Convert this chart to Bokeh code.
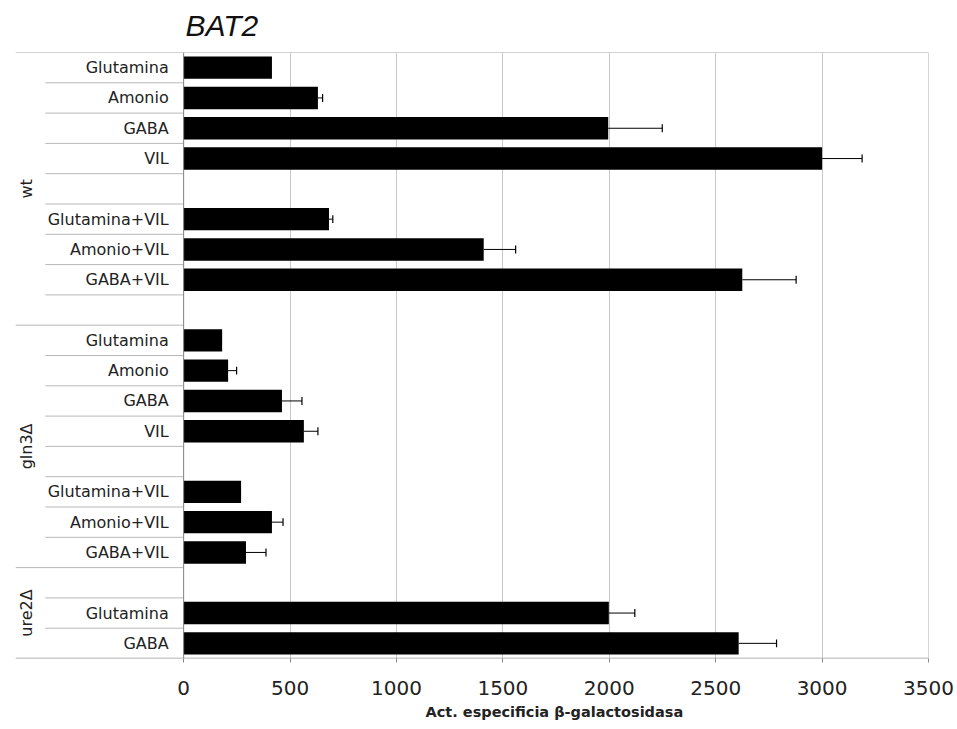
import numpy as np
from bokeh.plotting import figure
from bokeh.models import Range1d, FixedTicker, Span, Title, ColumnDataSource
from bokeh.core.properties import value
from bokeh.embed import file_html
from bokeh.resources import INLINE

# ---- data (rows from top to bottom; "" = empty spacer row) ----
labels = ["Glutamina", "Amonio", "GABA", "VIL", "",
          "Glutamina+VIL", "Amonio+VIL", "GABA+VIL", "",
          "Glutamina", "Amonio", "GABA", "VIL", "",
          "Glutamina+VIL", "Amonio+VIL", "GABA+VIL",
          "", "Glutamina", "GABA"]
values = [415, 631, 1995, 3000, np.nan,
          683, 1410, 2625, np.nan,
          181, 209, 462, 565, np.nan,
          270, 415, 293,
          np.nan, 1998, 2608]
errors = [0, 22, 254, 188, np.nan,
          18, 150, 253, np.nan,
          0, 40, 94, 66, np.nan,
          0, 52, 94,
          np.nan, 122, 178]
group_names = ["wt", "gln3\u0394", "ure2\u0394"]
group_start = [0, 9, 17]
group_end = [9, 17, 20]
x_ticks = [0, 500, 1000, 1500, 2000, 2500, 3000, 3500]
title_text = "BAT2"
x_label = "Act. especificia \u03b2-galactosidasa"

n = len(labels)
y = np.arange(n) + 0.5
vals = np.array(values, dtype=float)
errs = np.array(errors, dtype=float)

X0, X1 = -790, 3500
p = figure(width=957, height=729, output_backend="svg", toolbar_location=None,
           x_range=Range1d(X0, X1), y_range=Range1d(n, 0),
           y_axis_location=None, min_border_left=15, min_border_right=29,
           min_border_top=52, min_border_bottom=71)
p.outline_line_color = None
p.background_fill_color = "white"
p.border_fill_color = "white"

# grid
p.ygrid.visible = False
p.xgrid.ticker = FixedTicker(ticks=x_ticks[1:-1])
p.xgrid.grid_line_color = "#c8c8c8"
p.xgrid.grid_line_width = 1

# x axis
ax = p.xaxis[0]
ax.ticker = FixedTicker(ticks=x_ticks)
ax.axis_line_color = None
ax.major_tick_out = 4
ax.major_tick_in = 0
ax.major_tick_line_color = "#888888"
ax.minor_tick_line_color = None
ax.major_label_text_font = "DejaVu Sans"
ax.major_label_text_font_size = "20px"
ax.major_label_text_color = "#222222"
ax.major_label_standoff = 18

# frame lines
p.add_layout(Span(location=0, dimension="width", line_color="#aaaaaa", line_width=1))
p.add_layout(Span(location=n, dimension="width", line_color="#999999", line_width=1.5))
p.add_layout(Span(location=X1, dimension="height", line_color="#b0b0b0", line_width=1))

# separators in the label column
for b in range(1, n):
    x_start = X0 if b in group_start else -650
    p.segment(x0=[x_start], y0=[b], x1=[0], y1=[b], line_color="#b8b8b8", line_width=1)

# bars
mask = ~np.isnan(vals)
src = ColumnDataSource(dict(y=y[mask], v=vals[mask]))
p.hbar(y="y", left=0, right="v", height=0.74, source=src,
       fill_color="black", line_color=None)

# error bars (upper only)
emask = mask & (np.nan_to_num(errs) > 0)
esrc = ColumnDataSource(dict(y=y[emask], v=vals[emask], u=vals[emask] + errs[emask],
                             yl=y[emask] - 0.13, yh=y[emask] + 0.13))
p.segment(x0="v", y0="y", x1="u", y1="y", source=esrc, line_color="black", line_width=1)
p.segment(x0="u", y0="yl", x1="u", y1="yh", source=esrc, line_color="black", line_width=1.2)

# vertical axis line
p.segment(x0=[0], y0=[0], x1=[0], y1=[n], line_color="#808080", line_width=1)

# category labels
lab_mask = np.array([l != "" for l in labels])
p.text(x=[-70] * int(lab_mask.sum()), y=y[lab_mask], text=[l for l in labels if l != ""],
       text_font=value("DejaVu Sans"), text_font_size=value("16px"),
       text_align="right", text_baseline="middle", text_color="#222222")

# group labels
gy = [(s + e) / 2 for s, e in zip(group_start, group_end)]
p.text(x=[-738] * len(group_names), y=gy, text=group_names, angle=np.pi / 2,
       text_font=value("DejaVu Sans"), text_font_size=value("16px"),
       text_align="center", text_baseline="middle", text_color="#222222")

# title
t = Title(text=title_text, align="left", offset=170, text_font="Liberation Sans",
          text_font_style="italic", text_font_size="30px", text_color="#111111",
          standoff=17, vertical_align="top")
p.add_layout(t, "above")

# x-axis label as a bottom title centred under the plot area
xl = Title(text=x_label, align="left", offset=410, text_font="DejaVu Sans",
           text_font_style="bold", text_font_size="14.5px", text_color="#222222",
           standoff=8)
p.add_layout(xl, "below")

open("out.html", "w").write(file_html(p, INLINE))
